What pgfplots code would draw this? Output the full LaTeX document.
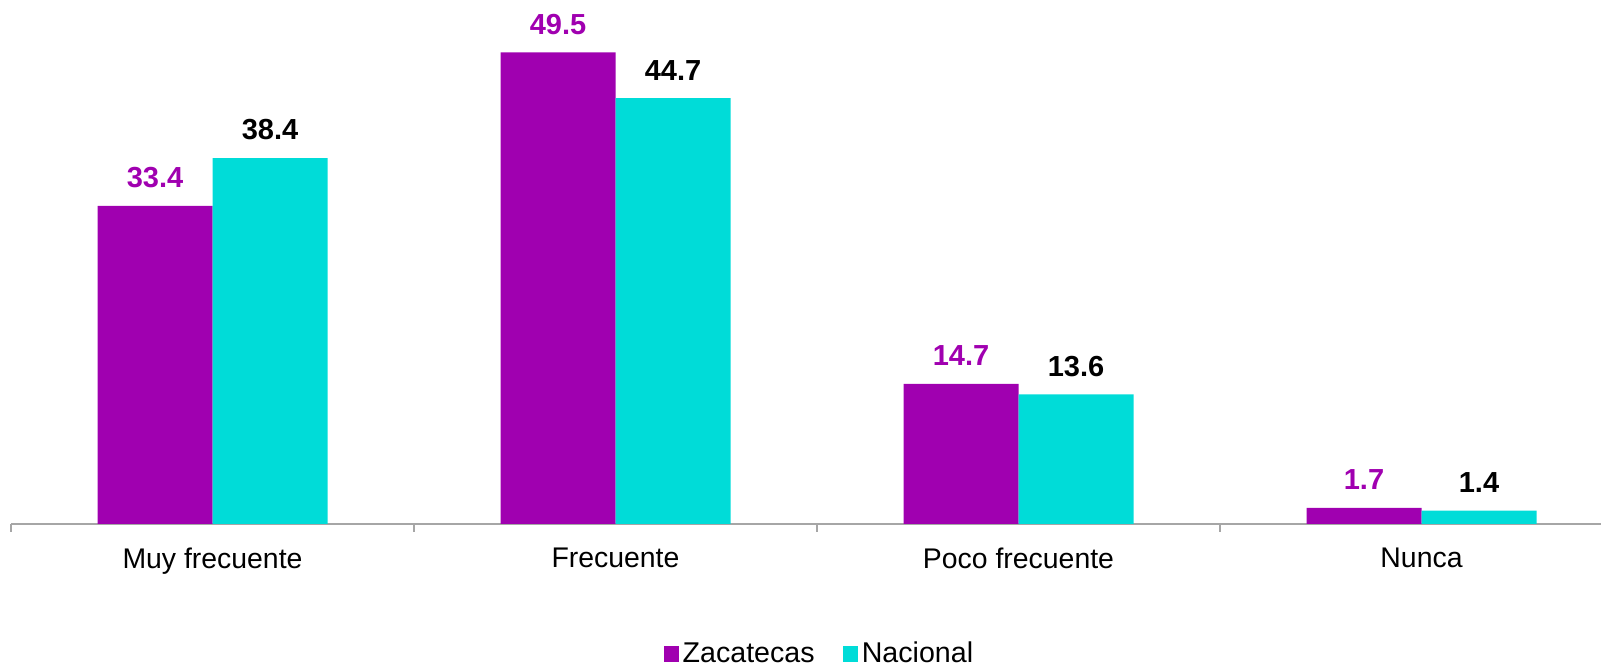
\documentclass[border=0pt]{standalone}
\usepackage{fontspec}
\setmainfont{Liberation Sans}
\usepackage{pgfplots}
\pgfplotsset{compat=1.18}
\definecolor{zpurple}{HTML}{A000B0}
\definecolor{ncyan}{HTML}{00DCD8}
\pgfplotstableread{
x y lab
0 33.4 33.4
1 49.5 49.5
2 14.7 14.7
3 1.7 1.7
}\zac
\pgfplotstableread{
x y lab
0 38.4 38.4
1 44.7 44.7
2 13.6 13.6
3 1.4 1.4
}\nac
\begin{document}
\begin{tikzpicture}
\begin{axis}[
 scale only axis, width=795pt, height=262pt,
 xmin=-0.5, xmax=3.4454, ymin=0, ymax=55,
 ybar=0pt, bar width=57.5pt,
 axis y line=none, axis x line*=bottom,
 x axis line style={draw=black!35, line width=0.8pt, -},
 xtick={0,1,2,3}, xticklabels={Muy frecuente, Frecuente, Poco frecuente, Nunca},
 major x tick style={draw=none},
 minor xtick={-0.5,0.5,1.5,2.5},
 minor x tick style={draw=black!35, line width=0.8pt},
 minor tick length=4pt, major tick length=4pt, tick align=outside,
 xticklabel style={font=\fontsize{14.2}{17}\selectfont, yshift=-4.5pt},
 clip=false,
 point meta=explicit symbolic,
 nodes near coords,
 legend style={at={(0.509,-0.248)}, anchor=center, draw=none, legend columns=2,
   font=\fontsize{14.3}{17}\selectfont,
   /tikz/every even column/.append style={column sep=12pt}},
 legend image code/.code={\fill[#1] (0pt,-3.8pt) rectangle (7.6pt,3.8pt);},
]
\addplot[fill=zpurple, draw=none,
  every node near coord/.append style={text=zpurple, font=\fontsize{14.5}{17}\selectfont\bfseries, yshift=5.5pt}]
  table[x=x, y=y, meta=lab]{\zac};
\addlegendentry{Zacatecas}
\addplot[fill=ncyan, draw=none,
  every node near coord/.append style={text=black, font=\fontsize{14.5}{17}\selectfont\bfseries, yshift=5.5pt}]
  table[x=x, y=y, meta=lab]{\nac};
\addlegendentry{Nacional}
\end{axis}
\pgfresetboundingbox
\path (-5.5pt,-71.5pt) rectangle (795pt,262pt);
\end{tikzpicture}
\end{document}
